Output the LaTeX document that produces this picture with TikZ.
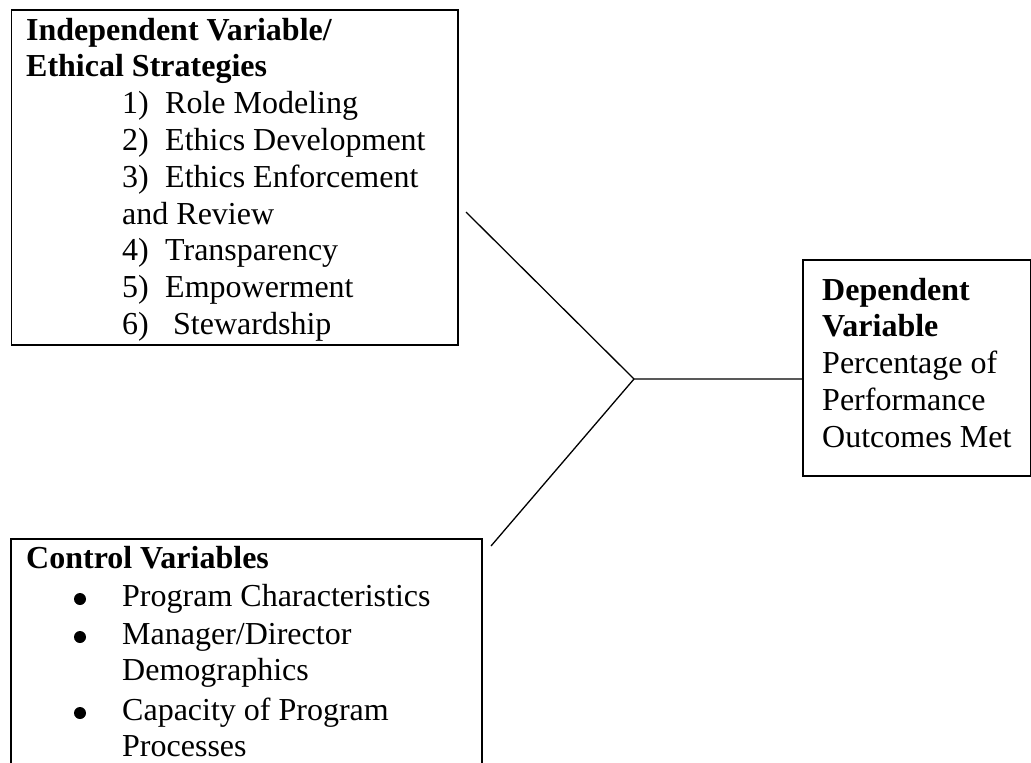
\documentclass[tikz,border=0pt]{standalone}
\usepackage{fontspec}
\setmainfont{Liberation Serif}
\begin{document}
\begin{tikzpicture}[x=1pt,y=-1pt,
  frame/.style={draw=black,line width=1.8pt,rectangle,inner sep=0pt,anchor=north west},
  txt/.style={inner sep=0pt,anchor=base west,font=\fontsize{32}{36.8}\selectfont},
  hd/.style={txt,font=\fontsize{32}{36.8}\selectfont\bfseries},
  link/.style={draw=black,line width=1.3pt},
  dot/.style={circle,fill=black,inner sep=0pt,minimum size=12pt}]
\useasboundingbox (0,0) rectangle (1031,763);
% boxes
\node[frame,minimum width=446.5pt,minimum height=335pt] (ivbox) at (10.5,9) {};
\node[frame,minimum width=471pt,minimum height=262pt] (cvbox) at (10,538) {};
\node[frame,minimum width=228pt,minimum height=216pt] (dvbox) at (802,259) {};
% independent variable box text
\node[hd] (iv1) at (26,40) {Independent Variable/};
\node[hd] (iv2) at (26,76.8) {Ethical Strategies};
\node[txt] (n1) at (122,113.6) {1)};
\node[txt] (t1) at (165,113.6) {Role Modeling};
\node[txt] (n2) at (122,150.4) {2)};
\node[txt] (t2) at (165,150.4) {Ethics Development};
\node[txt] (n3) at (122,187.2) {3)};
\node[txt] (t3) at (165,187.2) {Ethics Enforcement};
\node[txt] (t3b) at (122,224) {and Review};
\node[txt] (n4) at (122,260.8) {4)};
\node[txt] (t4) at (165,260.8) {Transparency};
\node[txt] (n5) at (122,297.6) {5)};
\node[txt] (t5) at (165,297.6) {Empowerment};
\node[txt] (n6) at (122,334.4) {6)};
\node[txt] (t6) at (173,334.4) {Stewardship};
% control variables box text
\node[hd] (cv1) at (26,568) {Control Variables};
\node[dot] (b1) at (80,599) {};
\node[txt] (c1) at (122,606) {Program Characteristics};
\node[dot] (b2) at (80,637) {};
\node[txt] (c2) at (122,644) {Manager/Director};
\node[txt] (c2b) at (122,680.8) {Demographics};
\node[dot] (b3) at (80,713) {};
\node[txt] (c3) at (122,720) {Capacity of Program};
\node[txt] (c3b) at (122,756.8) {Processes};
% dependent variable box text
\node[hd] (dv1) at (822,300) {Dependent};
\node[hd] (dv2) at (822,336.8) {Variable};
\node[txt] (d1) at (822,373.6) {Percentage of};
\node[txt] (d2) at (822,410.4) {Performance};
\node[txt] (d3) at (822,447.2) {Outcomes Met};
% connectors
\coordinate (ivend) at (466,212);
\coordinate (cvend) at (491,546);
\coordinate (joint) at (634,379);
\draw[link] (ivend) -- (joint) -- (dvbox.west |- joint);
\draw[link] (cvend) -- (joint);
\end{tikzpicture}
\end{document}
